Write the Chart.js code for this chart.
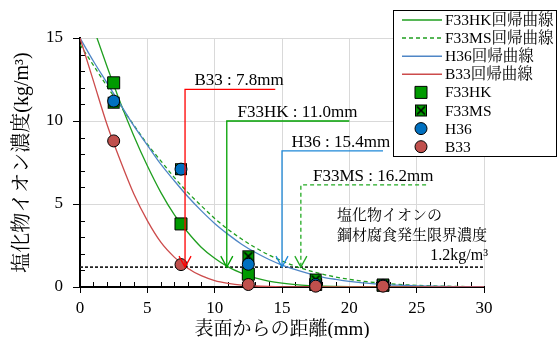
<!DOCTYPE html>
<html>
<head>
<meta charset="utf-8">
<script src="https://cdn.jsdelivr.net/npm/chart.js@4.4.0/dist/chart.umd.min.js"></script>
<style>
  html, body { margin: 0; padding: 0; background: #fff; }
  #wrap { width: 560px; height: 338px; }
</style>
</head>
<body>
<div id="wrap"><canvas id="chart" width="560" height="338"></canvas></div>
<script>
const SERIF = "'Liberation Serif', 'Noto Serif CJK JP', 'Noto Sans CJK JP', serif";

// regression curves, every 1 mm
const curveDist = [0, 1, 2, 3, 4, 5, 6, 7, 8, 9, 10, 11, 12, 13, 14, 15, 16, 17, 18, 19, 20, 21, 22, 23, 24, 25, 26, 27, 28, 29, 30];
const hkCurve = [18, 15.6, 13.3, 11.1, 9.1, 7.3, 5.7, 4.36, 3.3, 2.4, 1.73, 1.21, 0.83, 0.55, 0.36, 0.23, 0.14, 0.085, 0.05, 0.03, 0.015, 0.01, 0.005, 0, 0, 0, 0, 0, 0, 0, 0];
const msCurve = [14.6, 13.35, 12.1, 10.9, 9.75, 8.6, 7.6, 6.6, 5.7, 4.9, 4.13, 3.47, 2.89, 2.38, 1.94, 1.57, 1.25, 0.99, 0.77, 0.6, 0.46, 0.35, 0.26, 0.19, 0.14, 0.1, 0.07, 0.05, 0.035, 0.025, 0.017];
const h36Curve = [15, 13.6, 12.3, 11.0, 9.7, 8.55, 7.4, 6.4, 5.45, 4.6, 3.83, 3.17, 2.58, 2.09, 1.67, 1.32, 1.04, 0.8, 0.6, 0.46, 0.34, 0.25, 0.19, 0.13, 0.1, 0.07, 0.05, 0.035, 0.025, 0.017, 0.012];
const b33Curve = [15, 12.4, 9.8, 7.6, 5.6, 4.0, 2.7, 1.8, 1.13, 0.68, 0.39, 0.22, 0.11, 0.06, 0.03, 0.01, 0, 0, 0, 0, 0, 0, 0, 0, 0, 0, 0, 0, 0, 0, 0];

// measured points
const pointDist = [2.5, 7.5, 12.5, 17.5, 22.5];
const hkPoints = [12.3, 3.8, 0.77, 0.15, 0.1];
const msPoints = [11.1, 7.1, 1.85, 0.45, 0.15];
const h36Points = [11.2, 7.1, 1.37, 0.15, 0.1];
const b33Points = [8.8, 1.35, 0.15, 0.05, 0.05];

const limitValue = 1.2;
const depthLabels = ["B33 : 7.8mm", "F33HK : 11.0mm", "H36 : 15.4mm", "F33MS : 16.2mm"];

const xTicks = [0, 5, 10, 15, 20, 25, 30];
const yTicks = [0, 5, 10, 15];

function pts(xs, ys) {
  return xs.map((x, i) => ({ x: x, y: ys[i] }));
}

// green square with a black cross for F33MS
function crossSquare() {
  const c = document.createElement("canvas");
  c.width = 14; c.height = 14;
  const g = c.getContext("2d");
  g.fillStyle = "#009a00";
  g.fillRect(1, 1, 12, 12);
  g.strokeStyle = "#000";
  g.lineWidth = 1;
  g.strokeRect(1.5, 1.5, 11, 11);
  g.lineWidth = 1.6;
  g.beginPath();
  g.moveTo(3, 3); g.lineTo(11, 11);
  g.moveTo(11, 3); g.lineTo(3, 11);
  g.stroke();
  return c;
}

Chart.defaults.font.family = SERIF;
Chart.defaults.color = "#000";

function curveSet(label, data, color, dash, order) {
  return {
    label: label,
    data: pts(curveDist, data),
    showLine: true,
    borderColor: color,
    backgroundColor: color,
    borderWidth: 1.3,
    borderDash: dash,
    pointRadius: 0,
    cubicInterpolationMode: "monotone",
    order: order
  };
}

function pointSet(label, data, style, fill, radius, order) {
  return {
    label: label,
    data: pts(pointDist, data),
    showLine: false,
    pointStyle: style,
    pointRadius: radius,
    pointBackgroundColor: fill,
    pointBorderColor: "#000",
    pointBorderWidth: 1,
    clip: false,
    order: order
  };
}

const datasets = [
  curveSet("F33HK回帰曲線", hkCurve, "#1f9f1f", [], 8),
  curveSet("F33MS回帰曲線", msCurve, "#1f9f1f", [4, 3], 7),
  curveSet("H36回帰曲線", h36Curve, "#4f86c6", [], 6),
  curveSet("B33回帰曲線", b33Curve, "#cc4b4b", [], 5),
  pointSet("F33HK", hkPoints, "rect", "#009a00", 8.5, 4),
  pointSet("F33MS", msPoints, crossSquare(), "#009a00", 7, 3),
  pointSet("H36", h36Points, "circle", "#0070c0", 6, 2),
  pointSet("B33", b33Points, "circle", "#c0504d", 6, 1)
];

// arrows: where each label/line sits, in data units
const arrows = [
  { x: 7.8, top: 11.9, end: 14.5, textX: 8.5, color: "#ff0000", dash: [] },
  { x: 10.9, top: 10.0, end: 20.0, textX: 11.7, color: "#00a000", dash: [] },
  { x: 15.0, top: 8.2, end: 22.5, textX: 15.7, color: "#1e88d8", dash: [] },
  { x: 16.4, top: 6.15, end: 25.7, textX: 17.3, color: "#22aa22", dash: [4, 3] }
];

const extras = {
  id: "extras",
  beforeDatasetsDraw(chart) {
    const ctx = chart.ctx;
    const xs = chart.scales.x, ys = chart.scales.y;
    const bottom = ys.getPixelForValue(0), left = xs.getPixelForValue(0);
    ctx.save();
    // minor ticks inside the axes
    ctx.strokeStyle = "#000";
    ctx.lineWidth = 1;
    ctx.beginPath();
    for (let v = 1; v < 30; v++) {
      if (v % 5 === 0) continue;
      const px = Math.round(xs.getPixelForValue(v)) + 0.5;
      ctx.moveTo(px, bottom); ctx.lineTo(px, bottom - 5);
    }
    for (let v = 1; v < 15; v++) {
      if (v % 5 === 0) continue;
      const py = Math.round(ys.getPixelForValue(v)) + 0.5;
      ctx.moveTo(left, py); ctx.lineTo(left + 5, py);
    }
    ctx.stroke();
    // limit line
    const ly = ys.getPixelForValue(limitValue);
    ctx.strokeStyle = "#222";
    ctx.lineWidth = 1.6;
    ctx.setLineDash([3, 2]);
    ctx.beginPath();
    ctx.moveTo(left, ly); ctx.lineTo(xs.getPixelForValue(30), ly);
    ctx.stroke();
    ctx.setLineDash([]);
    ctx.restore();
  },
  afterDatasetsDraw(chart) {
    const ctx = chart.ctx;
    const xs = chart.scales.x, ys = chart.scales.y;
    const ly = ys.getPixelForValue(limitValue);
    ctx.save();
    arrows.forEach((a, i) => {
      const px = xs.getPixelForValue(a.x);
      const pt = ys.getPixelForValue(a.top);
      ctx.strokeStyle = a.color;
      ctx.lineWidth = 1.3;
      ctx.setLineDash(a.dash);
      ctx.beginPath();
      ctx.moveTo(xs.getPixelForValue(a.end), pt);
      ctx.lineTo(px, pt);
      ctx.lineTo(px, ly);
      ctx.stroke();
      ctx.setLineDash([]);
      ctx.beginPath();
      ctx.moveTo(px - 6, ly - 11);
      ctx.lineTo(px, ly);
      ctx.lineTo(px + 6, ly - 11);
      ctx.stroke();
      ctx.fillStyle = "#000";
      ctx.font = "17px " + SERIF;
      ctx.textBaseline = "alphabetic";
      ctx.textAlign = "left";
      ctx.fillText(depthLabels[i], xs.getPixelForValue(a.textX), pt - 4);
    });
    // note about the threshold
    ctx.fillStyle = "#000";
    ctx.font = "15px " + SERIF;
    ctx.textBaseline = "middle";
    ctx.textAlign = "left";
    ctx.fillText("塩化物イオンの", 337, 216);
    ctx.fillText("鋼材腐食発生限界濃度", 337, 236);
    ctx.textAlign = "right";
    ctx.font = "16px " + SERIF;
    ctx.fillText("1.2kg/m³", 488, 256);
    ctx.restore();
  },
  afterDraw(chart) {
    const ctx = chart.ctx;
    ctx.save();
    ctx.fillStyle = "#fff";
    ctx.fillRect(393, 10, 164, 147);
    ctx.strokeStyle = "#000";
    ctx.lineWidth = 1;
    ctx.strokeRect(393.5, 10.5, 163, 146);
    ctx.font = "15.5px " + SERIF;
    ctx.textBaseline = "middle";
    ctx.textAlign = "left";
    chart.data.datasets.forEach((ds, i) => {
      const y = 20 + i * 18.1;
      if (ds.showLine) {
        ctx.strokeStyle = ds.borderColor;
        ctx.lineWidth = 1.5;
        ctx.setLineDash(ds.borderDash);
        ctx.beginPath();
        ctx.moveTo(402, y); ctx.lineTo(442, y);
        ctx.stroke();
        ctx.setLineDash([]);
      } else {
        ctx.fillStyle = ds.pointBackgroundColor;
        ctx.strokeStyle = "#000";
        ctx.lineWidth = 1;
        Chart.helpers.drawPoint(ctx, { pointStyle: ds.pointStyle, radius: ds.pointRadius, rotation: 0, borderWidth: 1 }, 421, y);
      }
      ctx.fillStyle = "#000";
      ctx.fillText(ds.label, 445, y + 1);
    });
    ctx.restore();
  }
};

new Chart(document.getElementById("chart"), {
  type: "scatter",
  data: { datasets: datasets },
  options: {
    responsive: false,
    animation: false,
    layout: { padding: { top: 38, right: 76, left: 0, bottom: 0 } },
    plugins: { legend: { display: false }, tooltip: { enabled: false } },
    scales: {
      x: {
        type: "linear",
        min: 0, max: 30,
        afterFit: s => { s.height = 51; },
        afterBuildTicks: s => { s.ticks = xTicks.map(v => ({ value: v })); },
        ticks: { font: { size: 17 }, padding: 5, maxRotation: 0 },
        grid: { color: "#d9d9d9", tickColor: "#000", tickLength: 6, lineWidth: 1 },
        border: { display: true, color: "#000", width: 2 },
        title: { display: true, text: "表面からの距離(mm)", font: { size: 19, lineHeight: 0.8 }, padding: { top: 0, bottom: 0 } }
      },
      y: {
        type: "linear",
        min: 0, max: 15,
        afterFit: s => { s.width = 80; },
        afterBuildTicks: s => { s.ticks = yTicks.map(v => ({ value: v })); },
        ticks: { font: { size: 17 }, padding: 10 },
        grid: { color: "#d9d9d9", tickColor: "#000", tickLength: 7, lineWidth: 1 },
        border: { display: true, color: "#000", width: 2 },
        title: { display: true, text: "塩化物イオン濃度(kg/m³)", font: { size: 20 }, padding: { top: 11, bottom: 0 } }
      }
    }
  },
  plugins: [extras]
});
</script>
</body>
</html>
